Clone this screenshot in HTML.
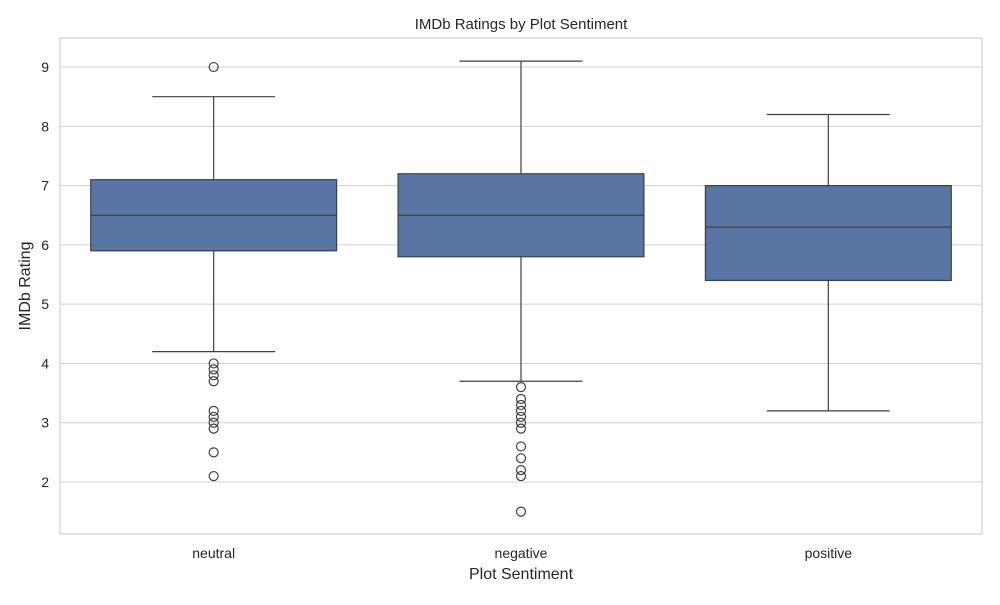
<!DOCTYPE html>
<html><head><meta charset="utf-8"><style>
body{margin:0;background:#fff;font-family:"Liberation Sans","DejaVu Sans",sans-serif}
</style></head><body>
<svg id="c" width="1000" height="600" xmlns="http://www.w3.org/2000/svg"></svg>
<script>
const categories=["neutral","negative","positive"];
const q1=[5.9,5.8,5.4];
const medians=[6.5,6.5,6.3];
const q3=[7.1,7.2,7.0];
const whiskLow=[4.2,3.7,3.2];
const whiskHigh=[8.5,9.1,8.2];
const outliers=[[9.0,4.0,3.9,3.8,3.7,3.2,3.1,3.0,2.9,2.5,2.1],[3.6,3.4,3.3,3.2,3.1,3.0,2.9,2.6,2.4,2.2,2.1,1.5],[]];
const yTicks=[2,3,4,5,6,7,8,9];

const svg=document.getElementById('c');const NS="http://www.w3.org/2000/svg";
const L=60,R=982,T=38,B=534,yMin=1.123,yMax=9.49;
const y=v=>B-(v-yMin)/(yMax-yMin)*(B-T);
const band=(R-L)/categories.length;
const x=i=>L+band*(i+0.5);
function mk(t,a,txt){const e=document.createElementNS(NS,t);for(const k in a)e.setAttribute(k,a[k]);if(txt!=null)e.textContent=txt;svg.appendChild(e);return e;}
let e;
e=mk('rect',{x:L,y:T,width:R-L,height:B-T,fill:'#fff',stroke:'#d0d0d0','stroke-width':1.2});

yTicks.forEach(t=>{
 e=mk('line',{x1:L,x2:R,y1:y(t),y2:y(t),stroke:'#d0d0d0','stroke-width':1});
 
 e=mk('text',{x:L-11,y:y(t)+5,'text-anchor':'end','font-size':14,fill:'#262626'},t);
 
});
categories.forEach((c,i)=>{
 const cx=x(i),bw=band*0.8,cw=bw/2;
 e=mk('line',{x1:cx,x2:cx,y1:y(q3[i]),y2:y(whiskHigh[i]),stroke:'#3f3f3f','stroke-width':1.2});
 
 e=mk('line',{x1:cx,x2:cx,y1:y(q1[i]),y2:y(whiskLow[i]),stroke:'#3f3f3f','stroke-width':1.2});
 
 [whiskHigh[i],whiskLow[i]].forEach(v=>{
  e=mk('line',{x1:cx-cw/2,x2:cx+cw/2,y1:y(v),y2:y(v),stroke:'#3f3f3f','stroke-width':1.2});
  
 });
 e=mk('rect',{x:cx-bw/2,y:y(q3[i]),width:bw,height:y(q1[i])-y(q3[i]),fill:'#5875a4',stroke:'#3f3f3f','stroke-width':1.2});
 
 e=mk('line',{x1:cx-bw/2,x2:cx+bw/2,y1:y(medians[i]),y2:y(medians[i]),stroke:'#3f3f3f','stroke-width':1.2});
 
 outliers[i].forEach(v=>{
  e=mk('circle',{cx:cx,cy:y(v),r:4.5,fill:'none',stroke:'#3f3f3f','stroke-width':1.2});
  
 });
 e=mk('text',{x:cx,y:B+24,'text-anchor':'middle','font-size':14,fill:'#262626'},c);
 
});
e=mk('text',{x:(L+R)/2,y:29,'text-anchor':'middle','font-size':15,fill:'#262626'},'IMDb Ratings by Plot Sentiment');

e=mk('text',{x:(L+R)/2,y:579,'text-anchor':'middle','font-size':16,fill:'#262626'},'Plot Sentiment');

e=mk('text',{x:30,y:(T+B)/2,'text-anchor':'middle','font-size':16,fill:'#262626',transform:`rotate(-90 30 ${(T+B)/2})`},'IMDb Rating');

</script>
</body></html>
